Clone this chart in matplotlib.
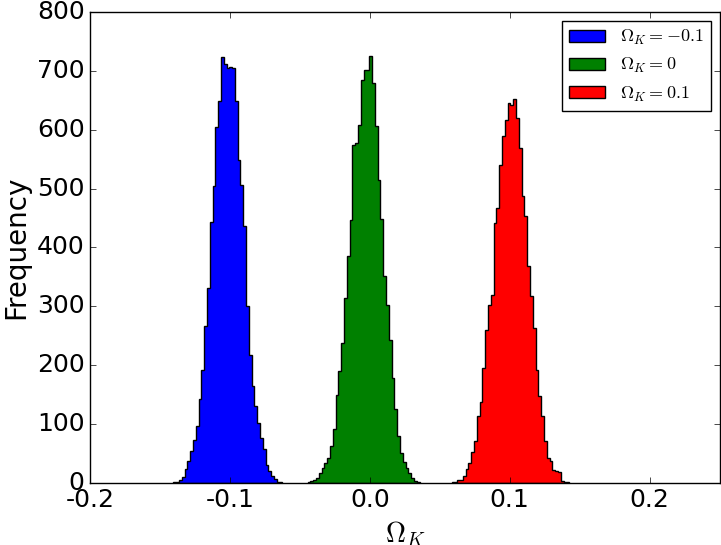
import matplotlib
matplotlib.use("Agg")
import matplotlib.pyplot as plt
import numpy as np

plt.style.use("classic")
plt.rcParams["mathtext.fontset"] = "cm"

width = 0.002
blue_start = -0.1405
blue_counts = [1, 2, 5, 10, 24, 37, 54, 72, 97, 143, 192, 266, 331, 444, 504, 604, 648, 724,
               712, 705, 707, 704, 648, 549, 506, 436, 300, 218, 164, 130, 102, 76, 57, 31,
               20, 12, 6, 2, 1]
green_start = -0.0445
green_counts = [1, 3, 5, 8, 16, 26, 33, 42, 63, 91, 150, 190, 238, 314, 385, 446, 574, 577,
                608, 685, 702, 702, 725, 679, 606, 515, 448, 352, 303, 242, 178, 126, 79, 51,
                35, 25, 17, 8, 3, 1]
red_start = 0.0585
red_counts = [1, 2, 5, 5, 12, 23, 34, 52, 71, 113, 137, 195, 260, 303, 319, 441, 467, 540,
              589, 617, 645, 642, 652, 620, 569, 487, 453, 368, 317, 263, 192, 147, 113, 71,
              42, 38, 22, 20, 18, 4, 2, 1]
colors = ["blue", "green", "red"]
labels = [r"$\Omega_K=-0.1$", r"$\Omega_K=0$", r"$\Omega_K=0.1$"]

fig = plt.figure(figsize=(7.21, 5.45), dpi=100)
ax = fig.add_axes([0.125, 0.114, 0.873, 0.864])
for start, counts, c, lab in zip([blue_start, green_start, red_start],
                                 [blue_counts, green_counts, red_counts], colors, labels):
    counts = np.array(counts, float)
    edges = start + width * np.arange(len(counts) + 1)
    centers = (edges[:-1] + edges[1:]) / 2
    ax.hist(centers, bins=edges, weights=counts, histtype="stepfilled",
            facecolor=c, edgecolor="black", linewidth=1, label=lab)

ax.set_xlim(-0.2, 0.25)
ax.set_ylim(0, 800)
ax.set_xticks([-0.2, -0.1, 0.0, 0.1, 0.2])
ax.set_xticklabels(["-0.2", "-0.1", "0.0", "0.1", "0.2"])
ax.tick_params(labelsize=18)
ax.set_xlabel(r"$\Omega_K$", fontsize=20)
ax.set_ylabel("Frequency", fontsize=20)
ax.legend(loc="upper right", fontsize=13, frameon=True)
fig.savefig("out.png", dpi=100)
